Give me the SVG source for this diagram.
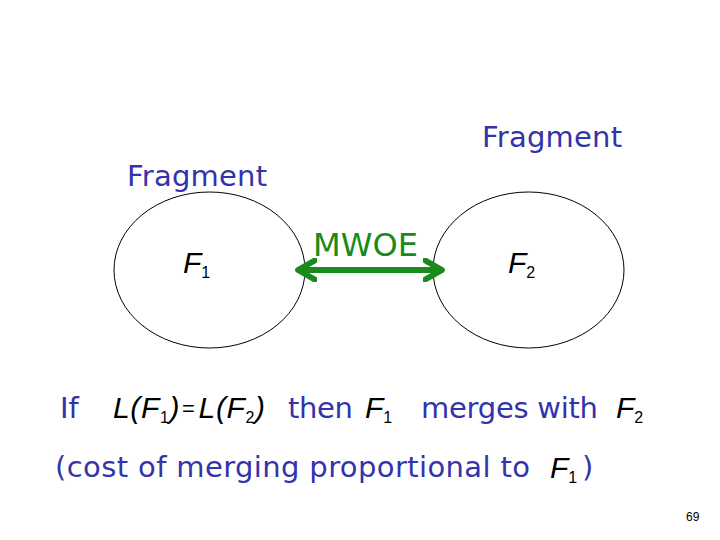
<svg xmlns="http://www.w3.org/2000/svg" width="720" height="540" viewBox="0 0 720 540">
<style>
.t{font-family:"DejaVu Sans",sans-serif;fill:#3333aa;font-size:29px}
.m{font-family:"Liberation Sans",sans-serif;font-style:italic;fill:#000;font-size:30px}
.s{font-style:normal;font-size:16px}
.e{fill:none;stroke:#000;stroke-width:1}
</style>
<defs>
<marker id="ah" viewBox="0 0 10 10" refX="8" refY="5" markerWidth="4" markerHeight="4" orient="auto-start-reverse" markerUnits="strokeWidth">
<path d="M1,1 L8,5 L1,9" fill="none" stroke="#1a8a1a" stroke-width="2.4" stroke-linecap="round" stroke-linejoin="round"/>
</marker>
</defs>
<rect width="720" height="540" fill="#fff"/>
<g id="f1">
<ellipse class="e" cx="209.5" cy="270" rx="95.5" ry="78"/>
<text class="m" x="183" y="273">F<tspan class="s" dy="5">1</tspan></text>
</g>
<g id="f2">
<ellipse class="e" cx="528.5" cy="270" rx="95.5" ry="78"/>
<text class="m" x="508" y="273">F<tspan class="s" dy="5">2</tspan></text>
</g>
<text class="t" x="127" y="186" textLength="140" font-size="30">Fragment</text>
<text class="t" x="482" y="147" textLength="140" font-size="30">Fragment</text>
<g id="connectors">
<line x1="298" y1="270" x2="442" y2="270" stroke="#1a8a1a" stroke-width="6" marker-start="url(#ah)" marker-end="url(#ah)"/>
<text x="313" y="256" font-family="DejaVu Sans,sans-serif" font-size="32" fill="#1a8a1a" textLength="105" lengthAdjust="spacingAndGlyphs">MWOE</text>
</g>
<text class="t" x="60" y="418">If</text>
<text class="m" x="113" y="418" textLength="152" font-size="28">L(F<tspan class="s" dy="5">1</tspan><tspan dy="-5">)</tspan><tspan font-style="normal" font-size="22" dx="2" dy="-2">=</tspan><tspan dx="3" dy="2">L(F</tspan><tspan class="s" dy="5">2</tspan><tspan dy="-5">)</tspan></text>
<text class="t" x="288" y="418" textLength="65">then</text>
<text class="m" x="365" y="418">F<tspan class="s" dy="5">1</tspan></text>
<text class="t" x="421" y="418" textLength="177">merges with</text>
<text class="m" x="616" y="418">F<tspan class="s" dy="5">2</tspan></text>
<text class="t" x="55" y="477" textLength="475">(cost of merging proportional to</text>
<text class="m" x="550" y="478">F<tspan class="s" dy="5">1</tspan></text>
<text class="t" x="582" y="477">)</text>
<text x="686" y="521" font-family="Liberation Sans,sans-serif" font-size="12" fill="#000">69</text>
</svg>
